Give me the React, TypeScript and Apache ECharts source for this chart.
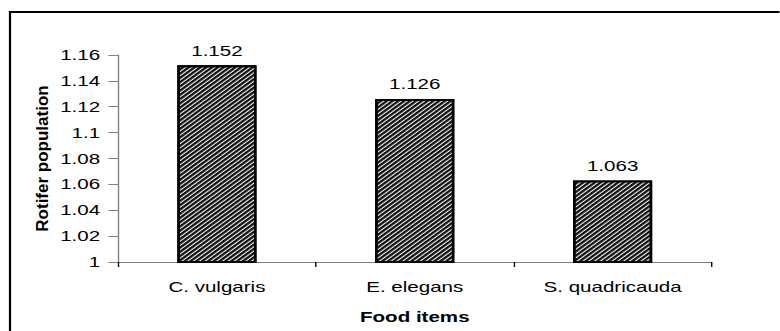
import React, { useEffect, useRef } from "react";
import * as echarts from "echarts";

const categories = ["C. vulgaris", "E. elegans", "S. quadricauda"];
const values = [1.152, 1.126, 1.063];
const yMin = 1;
const yMax = 1.16;
const yInterval = 0.02;
const xTitle = "Food items";
const yTitle = "Rotifer population";

// the reference is a horizontally stretched chart
const STRETCH = 1.37;
const W = 780;
const H = 331;
const innerW = W / STRETCH;
const GRID_TOP = 55;
const GRID_BOTTOM = 69;

export default function App() {
  const ref = useRef<HTMLDivElement>(null);
  useEffect(() => {
    if (!ref.current) return;
    const chart = echarts.init(ref.current, null, { renderer: "svg" });
    const font = "Arial, 'Liberation Sans', sans-serif";
    chart.setOption({
      animation: false,
      backgroundColor: "#fff",
      graphic: [
        {
          type: "line",
          shape: { x1: 10 / STRETCH, y1: 11, x2: 10 / STRETCH, y2: H },
          style: { stroke: "#000", lineWidth: 1.6 },
          silent: true,
        },
        {
          type: "line",
          shape: { x1: 10 / STRETCH - 0.8, y1: 12, x2: innerW, y2: 12 },
          style: { stroke: "#000", lineWidth: 2.2 },
          silent: true,
        },
        {
          type: "text",
          x: 42 / STRETCH,
          y: (GRID_TOP + (H - GRID_BOTTOM)) / 2,
          rotation: Math.PI / 2,
          scaleY: 1 / STRETCH,
          style: {
            text: yTitle,
            fontFamily: font,
            fontSize: 17,
            fontWeight: "bold",
            fill: "#000",
            align: "center",
            verticalAlign: "middle",
          },
          silent: true,
        },
      ],
      grid: { left: 118 / STRETCH, right: 68 / STRETCH, top: GRID_TOP, bottom: GRID_BOTTOM },
      xAxis: {
        type: "category",
        data: categories,
        name: xTitle,
        nameLocation: "middle",
        nameGap: 47,
        nameTextStyle: { fontFamily: font, fontSize: 15, fontWeight: "bold", color: "#000" },
        axisLine: { lineStyle: { color: "#808080", width: 1 } },
        axisTick: { show: true, inside: false, length: 5, lineStyle: { color: "#000" } },
        axisLabel: { fontFamily: font, fontSize: 15, color: "#000", margin: 17 },
      },
      yAxis: {
        type: "value",
        min: yMin,
        max: yMax,
        interval: yInterval,
        axisLine: { show: true, lineStyle: { color: "#808080", width: 1 } },
        axisTick: { show: true, length: 7, lineStyle: { color: "#808080" } },
        axisLabel: { fontFamily: font, fontSize: 15, color: "#000", margin: 13 },
        splitLine: { show: false },
      },
      series: [
        {
          type: "bar",
          data: values,
          barWidth: "40%",
          itemStyle: {
            color: "#fff",
            borderColor: "#000",
            borderWidth: 1.8,
            decal: {
              symbol: "rect",
              symbolSize: 1,
              color: "#111",
              dashArrayX: [1, 0],
              dashArrayY: [1.2, 1],
              rotation: -Math.PI / 4,
            },
          },
          label: {
            show: true,
            position: "top",
            distance: 7,
            fontFamily: font,
            fontSize: 15,
            color: "#000",
          },
        },
      ],
    });
    return () => chart.dispose();
  }, []);
  return (
    <div
      style={{
        position: "fixed",
        left: 0,
        top: 0,
        width: W,
        height: H,
        overflow: "hidden",
        background: "#fff",
      }}
    >
      <div
        ref={ref}
        style={{
          width: innerW,
          height: H,
          transform: `scaleX(${STRETCH})`,
          transformOrigin: "0 0",
        }}
      />
    </div>
  );
}
